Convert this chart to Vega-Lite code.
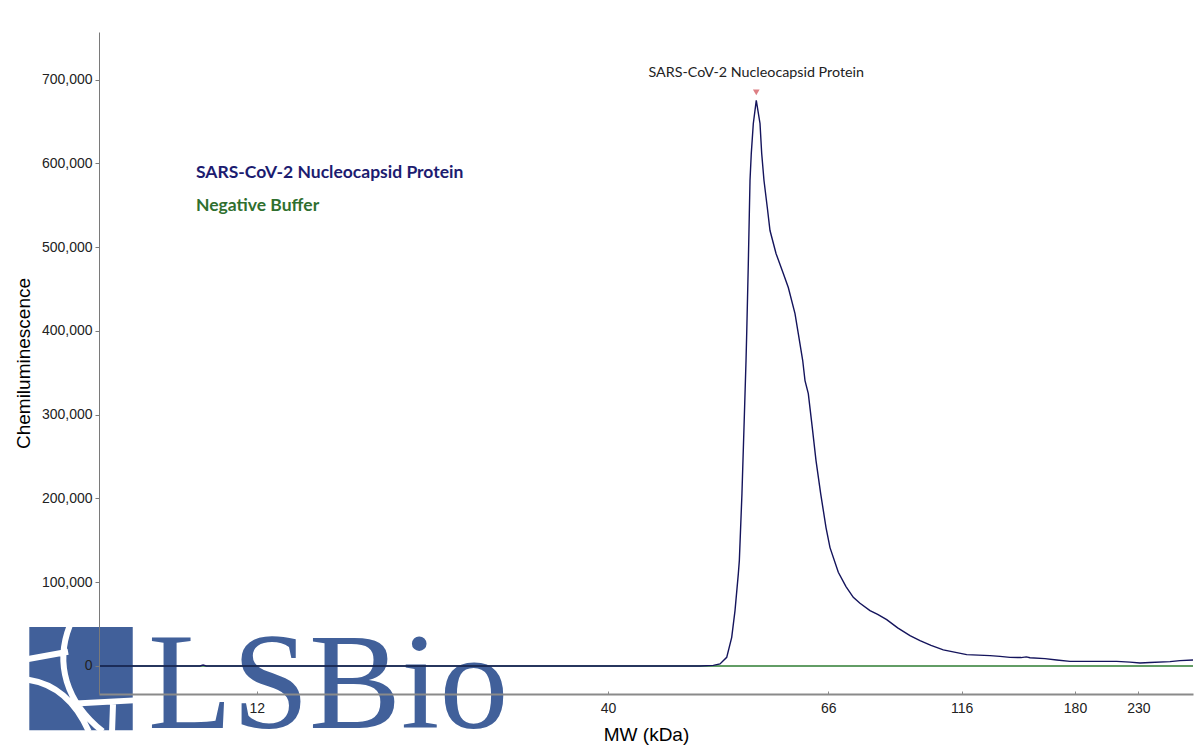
{
  "$schema": "https://vega.github.io/schema/vega-lite/v6.json",
  "width": 1094,
  "height": 662,
  "autosize": "none",
  "padding": {"left": 99, "top": 32, "right": 7, "bottom": 56},
  "background": "white",
  "config": {"view": {"stroke": null}, "font": "Liberation Sans"},
  "datasets": {
    "curve": [
      {"series": "Negative Buffer", "mw": 2, "value": 0},
      {"series": "Negative Buffer", "mw": 273.2, "value": 0},
      {"series": "SARS-CoV-2 Nucleocapsid Protein", "mw": 2, "value": 0},
      {"series": "SARS-CoV-2 Nucleocapsid Protein", "mw": 8.4, "value": 0},
      {"series": "SARS-CoV-2 Nucleocapsid Protein", "mw": 8.6, "value": 1100},
      {"series": "SARS-CoV-2 Nucleocapsid Protein", "mw": 8.8, "value": 0},
      {"series": "SARS-CoV-2 Nucleocapsid Protein", "mw": 50.86, "value": 0},
      {"series": "SARS-CoV-2 Nucleocapsid Protein", "mw": 52.43, "value": 717},
      {"series": "SARS-CoV-2 Nucleocapsid Protein", "mw": 53.22, "value": 2389},
      {"series": "SARS-CoV-2 Nucleocapsid Protein", "mw": 54.01, "value": 10273},
      {"series": "SARS-CoV-2 Nucleocapsid Protein", "mw": 54.6, "value": 34163},
      {"series": "SARS-CoV-2 Nucleocapsid Protein", "mw": 54.99, "value": 66056},
      {"series": "SARS-CoV-2 Nucleocapsid Protein", "mw": 55.38, "value": 109894},
      {"series": "SARS-CoV-2 Nucleocapsid Protein", "mw": 55.5, "value": 125781},
      {"series": "SARS-CoV-2 Nucleocapsid Protein", "mw": 55.81, "value": 205812},
      {"series": "SARS-CoV-2 Nucleocapsid Protein", "mw": 56.05, "value": 284649},
      {"series": "SARS-CoV-2 Nucleocapsid Protein", "mw": 56.29, "value": 364681},
      {"series": "SARS-CoV-2 Nucleocapsid Protein", "mw": 56.37, "value": 396932},
      {"series": "SARS-CoV-2 Nucleocapsid Protein", "mw": 56.56, "value": 480547},
      {"series": "SARS-CoV-2 Nucleocapsid Protein", "mw": 56.68, "value": 540272},
      {"series": "SARS-CoV-2 Nucleocapsid Protein", "mw": 56.76, "value": 579691},
      {"series": "SARS-CoV-2 Nucleocapsid Protein", "mw": 56.91, "value": 611942},
      {"series": "SARS-CoV-2 Nucleocapsid Protein", "mw": 57.15, "value": 647777},
      {"series": "SARS-CoV-2 Nucleocapsid Protein", "mw": 57.5, "value": 675251},
      {"series": "SARS-CoV-2 Nucleocapsid Protein", "mw": 57.94, "value": 647777},
      {"series": "SARS-CoV-2 Nucleocapsid Protein", "mw": 58.14, "value": 611942},
      {"series": "SARS-CoV-2 Nucleocapsid Protein", "mw": 58.41, "value": 579691},
      {"series": "SARS-CoV-2 Nucleocapsid Protein", "mw": 58.8, "value": 547439},
      {"series": "SARS-CoV-2 Nucleocapsid Protein", "mw": 59.12, "value": 519966},
      {"series": "SARS-CoV-2 Nucleocapsid Protein", "mw": 59.83, "value": 492492},
      {"series": "SARS-CoV-2 Nucleocapsid Protein", "mw": 60.69, "value": 468602},
      {"series": "SARS-CoV-2 Nucleocapsid Protein", "mw": 61.28, "value": 451879},
      {"series": "SARS-CoV-2 Nucleocapsid Protein", "mw": 62.07, "value": 420822},
      {"series": "SARS-CoV-2 Nucleocapsid Protein", "mw": 62.46, "value": 396932},
      {"series": "SARS-CoV-2 Nucleocapsid Protein", "mw": 62.98, "value": 364681},
      {"series": "SARS-CoV-2 Nucleocapsid Protein", "mw": 63.25, "value": 340791},
      {"series": "SARS-CoV-2 Nucleocapsid Protein", "mw": 63.64, "value": 325262},
      {"series": "SARS-CoV-2 Nucleocapsid Protein", "mw": 64.11, "value": 284649},
      {"series": "SARS-CoV-2 Nucleocapsid Protein", "mw": 64.55, "value": 245231},
      {"series": "SARS-CoV-2 Nucleocapsid Protein", "mw": 65.1, "value": 205812},
      {"series": "SARS-CoV-2 Nucleocapsid Protein", "mw": 65.73, "value": 165199},
      {"series": "SARS-CoV-2 Nucleocapsid Protein", "mw": 66.64, "value": 141309},
      {"series": "SARS-CoV-2 Nucleocapsid Protein", "mw": 69.75, "value": 111805},
      {"series": "SARS-CoV-2 Nucleocapsid Protein", "mw": 72.63, "value": 94724},
      {"series": "SARS-CoV-2 Nucleocapsid Protein", "mw": 75.37, "value": 81943},
      {"series": "SARS-CoV-2 Nucleocapsid Protein", "mw": 77.88, "value": 74776},
      {"series": "SARS-CoV-2 Nucleocapsid Protein", "mw": 81.63, "value": 66056},
      {"series": "SARS-CoV-2 Nucleocapsid Protein", "mw": 84.5, "value": 61500},
      {"series": "SARS-CoV-2 Nucleocapsid Protein", "mw": 87.89, "value": 55305},
      {"series": "SARS-CoV-2 Nucleocapsid Protein", "mw": 92.0, "value": 45500},
      {"series": "SARS-CoV-2 Nucleocapsid Protein", "mw": 96.62, "value": 36193},
      {"series": "SARS-CoV-2 Nucleocapsid Protein", "mw": 100.37, "value": 30221},
      {"series": "SARS-CoV-2 Nucleocapsid Protein", "mw": 104.5, "value": 24500},
      {"series": "SARS-CoV-2 Nucleocapsid Protein", "mw": 109.1, "value": 19112},
      {"series": "SARS-CoV-2 Nucleocapsid Protein", "mw": 118.82, "value": 13498},
      {"series": "SARS-CoV-2 Nucleocapsid Protein", "mw": 131.99, "value": 12303},
      {"series": "SARS-CoV-2 Nucleocapsid Protein", "mw": 137.63, "value": 11467},
      {"series": "SARS-CoV-2 Nucleocapsid Protein", "mw": 143.28, "value": 10273},
      {"series": "SARS-CoV-2 Nucleocapsid Protein", "mw": 149.5, "value": 10000},
      {"series": "SARS-CoV-2 Nucleocapsid Protein", "mw": 152.5, "value": 10800},
      {"series": "SARS-CoV-2 Nucleocapsid Protein", "mw": 154.58, "value": 9800},
      {"series": "SARS-CoV-2 Nucleocapsid Protein", "mw": 163.05, "value": 8720},
      {"series": "SARS-CoV-2 Nucleocapsid Protein", "mw": 169.66, "value": 7167},
      {"series": "SARS-CoV-2 Nucleocapsid Protein", "mw": 177.18, "value": 5495},
      {"series": "SARS-CoV-2 Nucleocapsid Protein", "mw": 212.94, "value": 5495},
      {"series": "SARS-CoV-2 Nucleocapsid Protein", "mw": 223.44, "value": 4539},
      {"series": "SARS-CoV-2 Nucleocapsid Protein", "mw": 231.34, "value": 3584},
      {"series": "SARS-CoV-2 Nucleocapsid Protein", "mw": 239.24, "value": 4181},
      {"series": "SARS-CoV-2 Nucleocapsid Protein", "mw": 255.04, "value": 5136},
      {"series": "SARS-CoV-2 Nucleocapsid Protein", "mw": 262.94, "value": 6331},
      {"series": "SARS-CoV-2 Nucleocapsid Protein", "mw": 273.2, "value": 7167}
    ],
    "peak": [{"mw": 57.5, "value": 684800, "label": "SARS-CoV-2 Nucleocapsid Protein", "labelValue": 707500}],
    "legend": [
      {"mw": 8.15, "value": 588060, "label": "SARS-CoV-2 Nucleocapsid Protein", "series": "SARS-CoV-2 Nucleocapsid Protein"},
      {"mw": 8.15, "value": 548634, "label": "Negative Buffer", "series": "Negative Buffer"}
    ],
    "logo": [{"mw": 0.86, "value": -15170, "textMw": 5.107, "textValue": -73700, "text": "LSBio"}]
  },
  "layer": [
    {
      "data": {"name": "logo"},
      "mark": {"type": "point", "shape": "square", "filled": true, "size": 10700, "color": "#41609a", "opacity": 1, "strokeWidth": 0},
      "encoding": {
        "x": {"field": "mw", "type": "quantitative"},
        "y": {"field": "value", "type": "quantitative"}
      }
    },
    {
      "data": {"name": "logo"},
      "mark": {"type": "point", "shape": "M -0.22 -1.02 C -0.5 -0.3 -0.3 0.45 0.42 1.02 M -1.02 -0.38 L -0.25 -0.52 M -1.02 0.02 C -0.5 0.1 -0.1 0.45 0.15 1.02 M -0.1 0.48 L 1.02 0.42 M 0.62 0.45 L 0.6 1.02", "filled": false, "size": 10700, "stroke": "white", "strokeWidth": 6, "opacity": 1},
      "encoding": {
        "x": {"field": "mw", "type": "quantitative"},
        "y": {"field": "value", "type": "quantitative"}
      }
    },
    {
      "data": {"name": "logo"},
      "mark": {"type": "text", "font": "Liberation Serif", "fontSize": 138, "align": "left", "baseline": "alphabetic", "color": "#41609a"},
      "encoding": {
        "x": {"field": "textMw", "type": "quantitative"},
        "y": {"field": "textValue", "type": "quantitative"},
        "text": {"field": "text"}
      }
    },
    {
      "data": {"name": "curve"},
      "mark": {"type": "line", "strokeWidth": 1.4, "interpolate": "linear"},
      "encoding": {
        "x": {
          "field": "mw", "type": "quantitative",
          "scale": {"type": "linear", "domain": [2, 12, 40, 66, 116, 180, 230, 273.2], "range": [0, 157.7, 509, 729.3, 862.7, 976, 1039.3, 1094], "nice": false, "zero": false},
          "axis": {
            "title": "MW (kDa)", "values": [12, 40, 66, 116, 180, 230], "grid": false,
            "domainColor": "#8a8a8a", "domainWidth": 2, "tickColor": "#8a8a8a", "tickSize": -3,
            "labelFontSize": 14, "labelColor": "#222", "labelPadding": 10, "labelFont": "Liberation Sans",
            "titleFontSize": 19, "titleFontWeight": "normal", "titleColor": "#000", "titlePadding": 10, "titleFont": "Liberation Sans",
            "zindex": 1
          }
        },
        "y": {
          "field": "value", "type": "quantitative",
          "scale": {"domain": [-33500, 757000], "nice": false, "zero": false},
          "axis": {
            "title": "Chemiluminescence", "values": [0, 100000, 200000, 300000, 400000, 500000, 600000, 700000], "format": ",.0f", "grid": false,
            "domainColor": "#7a7a7a", "domainWidth": 1, "tickColor": "#7a7a7a", "tickSize": 4,
            "labelFontSize": 14, "labelColor": "#222", "labelPadding": 3, "labelFont": "Liberation Sans",
            "titleFontSize": 19, "titleFontWeight": "normal", "titleColor": "#000", "titlePadding": 8, "titleFont": "Liberation Sans",
            "zindex": 1
          }
        },
        "color": {
          "field": "series", "type": "nominal",
          "scale": {"domain": ["SARS-CoV-2 Nucleocapsid Protein", "Negative Buffer"], "range": ["#14145c", "#2e7d32"]},
          "legend": null
        },
        "order": {"field": "series", "type": "nominal", "sort": "ascending"}
      }
    },
    {
      "data": {"name": "peak"},
      "mark": {"type": "point", "shape": "triangle-down", "filled": true, "size": 45, "color": "#dd7f84", "opacity": 1},
      "encoding": {
        "x": {"field": "mw", "type": "quantitative"},
        "y": {"field": "value", "type": "quantitative"}
      }
    },
    {
      "data": {"name": "peak"},
      "mark": {"type": "text", "font": "Lato", "fontSize": 14.3, "align": "center", "baseline": "middle", "color": "#222"},
      "encoding": {
        "x": {"field": "mw", "type": "quantitative"},
        "y": {"field": "labelValue", "type": "quantitative"},
        "text": {"field": "label"}
      }
    },
    {
      "data": {"name": "legend"},
      "mark": {"type": "text", "font": "Lato", "fontSize": 17.5, "fontWeight": "bold", "align": "left", "baseline": "middle"},
      "encoding": {
        "x": {"field": "mw", "type": "quantitative"},
        "y": {"field": "value", "type": "quantitative"},
        "text": {"field": "label"},
        "color": {
          "field": "series", "type": "nominal",
          "scale": {"domain": ["SARS-CoV-2 Nucleocapsid Protein", "Negative Buffer"], "range": ["#1c1c70", "#2f6f2f"]},
          "legend": null
        }
      }
    }
  ],
  "resolve": {"scale": {"color": "independent"}}
}
